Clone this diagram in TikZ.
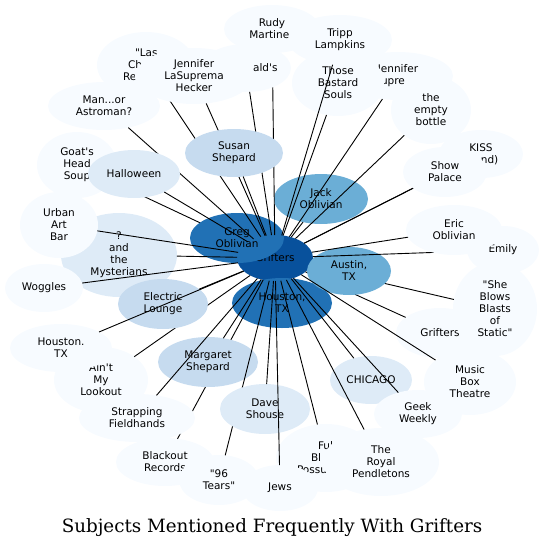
\documentclass[tikz,border=0pt]{standalone}
\usepackage{fontspec}
\newfontfamily\nodefont{DejaVu Sans}
\newfontfamily\titlefont{DejaVu Serif}
\usetikzlibrary{shapes.geometric}
\definecolor{b1}{HTML}{F7FBFF}
\definecolor{b2}{HTML}{DEEBF7}
\definecolor{b3}{HTML}{C6DBEF}
\definecolor{b5}{HTML}{6BAED6}
\definecolor{b7}{HTML}{2171B5}
\definecolor{b8}{HTML}{08519C}
\tikzset{
  nd/.style={ellipse, draw=none, inner sep=0pt, outer sep=0pt, align=center,
    font=\nodefont\fontsize{10.5}{12}\selectfont},
  lbl/.style={inner sep=0pt, outer sep=0pt, align=left,
    font=\nodefont\fontsize{10.5}{12}\selectfont},
  edge/.style={draw=black, line width=0.9pt},
  title/.style={inner sep=0pt, font=\titlefont\fontsize{18.3}{22}\selectfont},
}
\newcommand\gnode[7]{\node[nd, fill=#6, minimum width=#4pt, minimum height=#5pt] (#1) at (#2,#3) {#7};}
\newcommand\gedge[1]{\draw[edge] (hub) -- (#1);}
\begin{document}
\begin{tikzpicture}[x=1pt,y=-1pt]
\useasboundingbox (0,0) rectangle (544,550);
\gnode{hub}{275}{258}{76}{46}{b8}{Grifters}
\gnode{goat}{77}{165}{80}{66}{b1}{Goat\textquotesingle s\\Head\\Soup}\gedge{goat}
\gnode{greg}{237}{238}{94}{50}{b7}{Greg\\Oblivian}
\gnode{houc}{282}{303}{100}{50}{b7}{Houston,\\TX}
\gnode{jack}{321}{199}{94}{50}{b5}{Jack\\Oblivian}\gedge{jack}
\gnode{rudy}{272}{29}{96}{48}{b1}{Rudy\\Martine\phantom{z}}\gedge{rudy}
\gnode{jens}{398}{76}{110}{48}{b1}{Jennifer\\Supre\phantom{ma}}\gedge{jens}
\gnode{tbs}{338}{83}{92}{66}{b1}{Those\\Bastard\\Souls}\gedge{tbs}
\gnode{tripp}{340}{40}{104}{50}{b1}{Tripp\\Lampkins}\gedge{tripp}
\gnode{alds}{246}{68}{90}{48}{b1}{}\node[lbl,anchor=east] (aldstext) at (277.5,68) {ald\textquotesingle s};\gedge{alds}
\gnode{las}{146}{65}{98}{66}{b1}{}\node[lbl,anchor=west] (lastext) at (123,65) {\hspace*{12pt}"Las\\\hspace*{5pt}Ch\\Re};\gedge{las}
\gnode{jenh}{194}{76}{118}{56}{b1}{Jennifer\\LaSuprema\\Hecker}\gedge{jenh}
\gnode{susan}{234}{153}{98}{48}{b3}{Susan\\Shepard}\gedge{susan}
\gnode{man}{104}{106}{112}{48}{b1}{Man...or\\Astroman?}\gedge{man}
\gnode{hall}{134}{174}{92}{48}{b2}{Halloween}\gedge{hall}
\gnode{myst}{119}{255}{116}{84}{b2}{?\\and\\the\\Mysterians}\gedge{myst}
\gnode{urban}{59}{225}{78}{66}{b1}{Urban\\Art\\Bar}\gedge{urban}
\gnode{wog}{44}{288}{78}{48}{b1}{Woggles}\gedge{wog}
\gnode{aint}{101}{380}{94}{66}{b1}{Ain\textquotesingle t\\My\\Lookout}\gedge{aint}
\gnode{elec}{163}{304}{90}{50}{b3}{Electric\\Lounge}\gedge{elec}
\gnode{houl}{61}{348}{102}{48}{b1}{Houston.\\TX}\gedge{houl}
\gnode{black}{165}{462}{98}{48}{b1}{Blackout\\Records}\gedge{black}
\gnode{marg}{208}{362}{100}{50}{b3}{Margaret\\Shepard}\gedge{marg}
\gnode{strap}{137}{418}{116}{48}{b1}{Strapping\\Fieldhands}\gedge{strap}
\gnode{tears}{219}{480}{80}{50}{b1}{"96\\Tears"}\gedge{tears}
\gnode{dave}{265}{409}{90}{50}{b2}{Dave\\Shouse}\gedge{dave}
\gnode{chic}{371}{380}{82}{48}{b2}{CHICAGO}\gedge{chic}
\gnode{possum}{326}{458}{100}{68}{b1}{}\node[lbl,anchor=west] (possumtext) at (297,458) {\hspace*{21pt}Ful\\\hspace*{14pt}Bl\\Possu};\gedge{possum}
\gnode{jews}{280}{488}{76}{46}{b1}{Jews}\gedge{jews}
\gnode{royal}{381}{462}{116}{68}{b1}{The\\Royal\\Pendletons}\gedge{royal}
\gnode{geek}{418}{414}{88}{48}{b1}{Geek\\Weekly}\gedge{geek}
\gnode{grifr}{440}{333}{88}{50}{b1}{Grifters}\gedge{grifr}
\gnode{she}{495}{309}{84}{94}{b1}{"She\\Blows\\Blasts\\of\\Static"}\gedge{she}
\gnode{austin}{349}{271}{84}{48}{b5}{Austin,\\TX}
\gnode{music}{470}{382}{92}{66}{b1}{Music\\Box\\Theatre}\gedge{music}
\gnode{emily}{503}{250}{72}{48}{b1}{Emily}\gedge{emily}
\gnode{eric}{454}{230}{96}{50}{b1}{Eric\\Oblivian}\gedge{eric}
\gnode{kiss}{481}{154}{84}{48}{b1}{KISS\\\phantom{(ba}nd)}\gedge{kiss}
\gnode{show}{445}{172}{84}{50}{b1}{Show\\Palace}\gedge{show}
\gnode{bottle}{431}{110}{80}{68}{b1}{the\\empty\\bottle}\gedge{bottle}
\node[title] (title) at (272,528) {Subjects Mentioned Frequently With Grifters};
\end{tikzpicture}
\end{document}
